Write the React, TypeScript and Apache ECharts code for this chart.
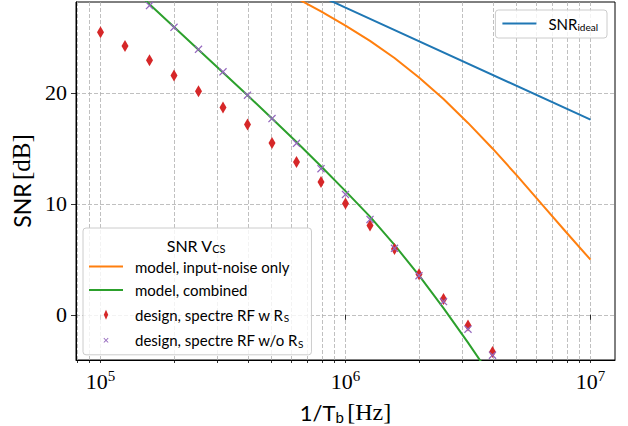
import React, { useEffect, useRef } from 'react';
import * as echarts from 'echarts';

// ---- data ----
const designFreqs = [100000, 125893, 158489, 199526, 251189, 316228, 398107, 501187, 630957, 794328, 1000000, 1258925, 1584893, 1995262, 2511886, 3162278, 3981072];
const snrDesignWithRs = [25.47, 24.23, 22.94, 21.58, 20.16, 18.69, 17.15, 15.49, 13.77, 11.98, 10.04, 8.05, 5.94, 3.65, 1.42, -0.96, -3.35];

const designFreqsNoRs = [158489, 199526, 251189, 316228, 398107, 501187, 630957, 794328, 1000000, 1258925, 1584893, 1995262, 2511886, 3162278, 3981072];
const snrDesignWithoutRs = [27.88, 25.92, 23.93, 21.91, 19.8, 17.69, 15.46, 13.17, 10.85, 8.6, 6.0, 3.53, 1.2, -1.29, -3.64];

const combinedFreqs = [125893, 158489, 199526, 251189, 316228, 398107, 501187, 630957, 794328, 1000000, 1258925, 1584893, 1995262, 2511886, 3162278, 3981072];
const snrModelCombined = [30.1, 28.0, 25.95, 23.9, 21.85, 19.8, 17.7, 15.58, 13.4, 11.15, 8.85, 6.3, 3.55, 0.6, -2.5, -5.75];

const inputNoiseFreqs = [316228, 398107, 501187, 630957, 794328, 1000000, 1258925, 1584893, 1995262, 2511886, 3162278, 3981072, 5011872, 6309573, 7943282, 10000000];
const snrModelInputNoise = [31.85, 30.8, 29.7, 28.55, 27.35, 26.07, 24.7, 23.15, 21.4, 19.45, 17.3, 15.0, 12.55, 10.0, 7.47, 4.97];

const idealFreqs = [100000, 1000000, 10000000];
const snrIdeal = [37.8, 27.7, 17.6];

const xMajorTicks = [100000, 1000000, 10000000];
const xMinorTicks = [80000, 90000, 200000, 300000, 400000, 500000, 600000, 700000, 800000, 900000,
  2000000, 3000000, 4000000, 5000000, 6000000, 7000000, 8000000, 9000000];
const yTicks = [0, 10, 20];

const X_MIN = 79432.8;
const X_MAX = 12589254;
const Y_MIN = -4.07;
const Y_MAX = 28.2;

const NAME_IDEAL = 'SNR_ideal';
const NAME_INPUT = 'model, input-noise only';
const NAME_COMB = 'model, combined';
const NAME_WRS = 'design, spectre RF w R_S';
const NAME_WORS = 'design, spectre RF w/o R_S';

const legendLabels: Record<string, string> = {
  [NAME_IDEAL]: '{t|SNR}{sub|ideal}',
  [NAME_INPUT]: '{t|model, input-noise only}',
  [NAME_COMB]: '{t|model, combined}',
  [NAME_WRS]: '{t|design, spectre RF w R}{sub|S}',
  [NAME_WORS]: '{t|design, spectre RF w/o R}{sub|S}',
};

const SANS = 'Lato, "Open Sans", sans-serif';
const SERIF = '"Liberation Serif", "DejaVu Serif", serif';

const zip = (xs: number[], ys: number[]) => xs.map((x, i) => [x, ys[i]]);

const X_PATH = 'path://M0,1.1L1.1,0L5,3.9L8.9,0L10,1.1L6.1,5L10,8.9L8.9,10L5,6.1L1.1,10L0,8.9L3.9,5Z';
const X_LEGEND = 'path://M0,0M10,10M2.5,3.1L3.1,2.5L5,4.4L6.9,2.5L7.5,3.1L5.6,5L7.5,6.9L6.9,7.5L5,5.6L3.1,7.5L2.5,6.9L4.4,5Z';
const D_LEGEND = 'path://M2.2,0L4.4,5L2.2,10L0,5Z';
const LINE_ICON = 'path://M0,0L34,0L34,2L0,2Z';

const legendRich = {
  t: { fontFamily: SANS, fontSize: 15, color: '#000', padding: [0, 0, 0, 7], lineHeight: 18 },
  sub: { fontFamily: SANS, fontSize: 10, color: '#000', padding: [7, 0, 0, 0], lineHeight: 18 },
};

export default function App() {
  const ref = useRef<HTMLDivElement>(null);
  useEffect(() => {
    if (!ref.current) return;
    const chart = echarts.init(ref.current, null, { renderer: 'svg' });
    const gridLine = { show: true, lineStyle: { color: '#b0b0b0', type: [4, 2] as any, width: 0.8 } };
    const option: any = {
      animation: false,
      backgroundColor: '#fff',
      grid: {
        left: 76, right: 13, top: 2, bottom: 66,
        show: true, borderColor: '#000', borderWidth: 1, backgroundColor: 'transparent',
        containLabel: false, outerBoundsMode: 'none',
      },
      xAxis: [
        {
          type: 'log', logBase: 10, min: X_MIN, max: X_MAX,
          axisLine: { show: true, onZero: false, lineStyle: { color: '#000', width: 1 } },
          axisTick: { show: true, customValues: [...xMajorTicks, ...xMinorTicks], length: 3, lineStyle: { color: '#000', width: 0.8 } },
          axisLabel: {
            show: true, customValues: xMajorTicks, margin: 5, color: '#000',
            formatter: (v: number) => {
              const e = Math.round(Math.log10(v));
              return '{b|10}{e|' + e + '}';
            },
            rich: {
              b: { fontFamily: SERIF, fontSize: 22, color: '#000', lineHeight: 26, padding: [6, 0, 0, 0] },
              e: { fontFamily: SERIF, fontSize: 15, color: '#000', lineHeight: 26, padding: [0, 0, 4, 0] },
            },
          },
          splitLine: gridLine,
          minorTick: { show: false }, minorSplitLine: { show: false },
          name: '{s|1/T}{sub|b} {r|[Hz]}',
          nameLocation: 'middle', nameGap: 38,
          nameTextStyle: {
            rich: {
              s: { fontFamily: SANS, fontSize: 22, color: '#000', lineHeight: 28 },
              sub: { fontFamily: SANS, fontSize: 15, color: '#000', padding: [9, 0, 0, 0], lineHeight: 28 },
              r: { fontFamily: SERIF, fontSize: 24, color: '#000', lineHeight: 28 },
            },
          },
        },
        {
          type: 'log', logBase: 10, min: X_MIN, max: X_MAX, position: 'bottom',
          axisLine: { show: false },
          axisTick: { show: true, customValues: xMajorTicks, length: 5, lineStyle: { color: '#000', width: 0.8 } },
          axisLabel: { show: false },
          splitLine: { show: false },
        },
      ],
      yAxis: {
        type: 'value', min: Y_MIN, max: Y_MAX,
        axisLine: { show: true, onZero: false, lineStyle: { color: '#000', width: 1 } },
        axisTick: { show: true, customValues: yTicks, length: 5, lineStyle: { color: '#000', width: 0.8 } },
        axisLabel: { show: true, customValues: yTicks, margin: 9, color: '#000', fontFamily: SERIF, fontSize: 22 },
        splitLine: gridLine,
        name: '{s|SNR} {r|[dB]}',
        nameLocation: 'middle', nameGap: 40,
        nameTextStyle: {
          rich: {
            s: { fontFamily: SANS, fontSize: 23, color: '#000', lineHeight: 26 },
            r: { fontFamily: SERIF, fontSize: 25, color: '#000', lineHeight: 26 },
          },
        },
      },
      legend: [
        {
          data: [{ name: NAME_IDEAL, icon: LINE_ICON }],
          right: 21, top: 10, orient: 'vertical',
          itemWidth: 34, itemHeight: 14,
          padding: [5, 9, 6, 7],
          backgroundColor: 'rgba(255,255,255,0.8)', borderColor: '#cccccc', borderWidth: 1, borderRadius: 3,
          formatter: (n: string) => legendLabels[n],
          textStyle: { rich: legendRich },
        },
        {
          data: [
            { name: NAME_INPUT, icon: LINE_ICON },
            { name: NAME_COMB, icon: LINE_ICON },
            { name: NAME_WRS, icon: D_LEGEND },
            { name: NAME_WORS, icon: X_LEGEND },
          ],
          left: 83, top: 228, orient: 'vertical',
          itemWidth: 34, itemHeight: 10, itemGap: 8.6,
          padding: [31, 8, 6, 6],
          backgroundColor: 'rgba(255,255,255,0.8)', borderColor: '#cccccc', borderWidth: 1, borderRadius: 3,
          formatter: (n: string) => legendLabels[n],
          textStyle: { rich: legendRich },
        },
      ],
      graphic: [
        {
          type: 'text', x: 196, y: 245, z: 100,
          style: {
            text: '{a|SNR V}{b|CS}', textAlign: 'center', textVerticalAlign: 'middle',
            rich: {
              a: { fontFamily: SANS, fontSize: 16, fill: '#000', lineHeight: 20 },
              b: { fontFamily: SANS, fontSize: 11, fill: '#000', padding: [7, 0, 0, 0], lineHeight: 20 },
            },
          },
        },
      ],
      series: [
        {
          name: NAME_IDEAL, type: 'line', data: zip(idealFreqs, snrIdeal), symbol: 'none',
          lineStyle: { color: '#1f77b4', width: 2 }, itemStyle: { color: '#1f77b4' }, clip: true, z: 2,
        },
        {
          name: NAME_INPUT, type: 'line', data: zip(inputNoiseFreqs, snrModelInputNoise), symbol: 'none',
          lineStyle: { color: '#ff7f0e', width: 2 }, itemStyle: { color: '#ff7f0e' }, clip: true, z: 3,
        },
        {
          name: NAME_COMB, type: 'line', data: zip(combinedFreqs, snrModelCombined), symbol: 'none',
          lineStyle: { color: '#2ca02c', width: 2 }, itemStyle: { color: '#2ca02c' }, clip: true, z: 4,
        },
        {
          name: NAME_WRS, type: 'scatter', data: zip(designFreqs, snrDesignWithRs),
          symbol: 'diamond', symbolSize: [7, 12], itemStyle: { color: '#d62728', opacity: 1 }, clip: true, z: 5,
        },
        {
          name: NAME_WORS, type: 'scatter', data: zip(designFreqsNoRs, snrDesignWithoutRs),
          symbol: X_PATH, symbolSize: 8, itemStyle: { color: '#9467bd', opacity: 1 }, clip: true, z: 6,
        },
      ],
    };
    chart.setOption(option);
    return () => chart.dispose();
  }, []);
  return <div ref={ref} style={{ width: 628, height: 426, position: 'fixed', left: 0, top: 0, background: '#fff' }} />;
}
